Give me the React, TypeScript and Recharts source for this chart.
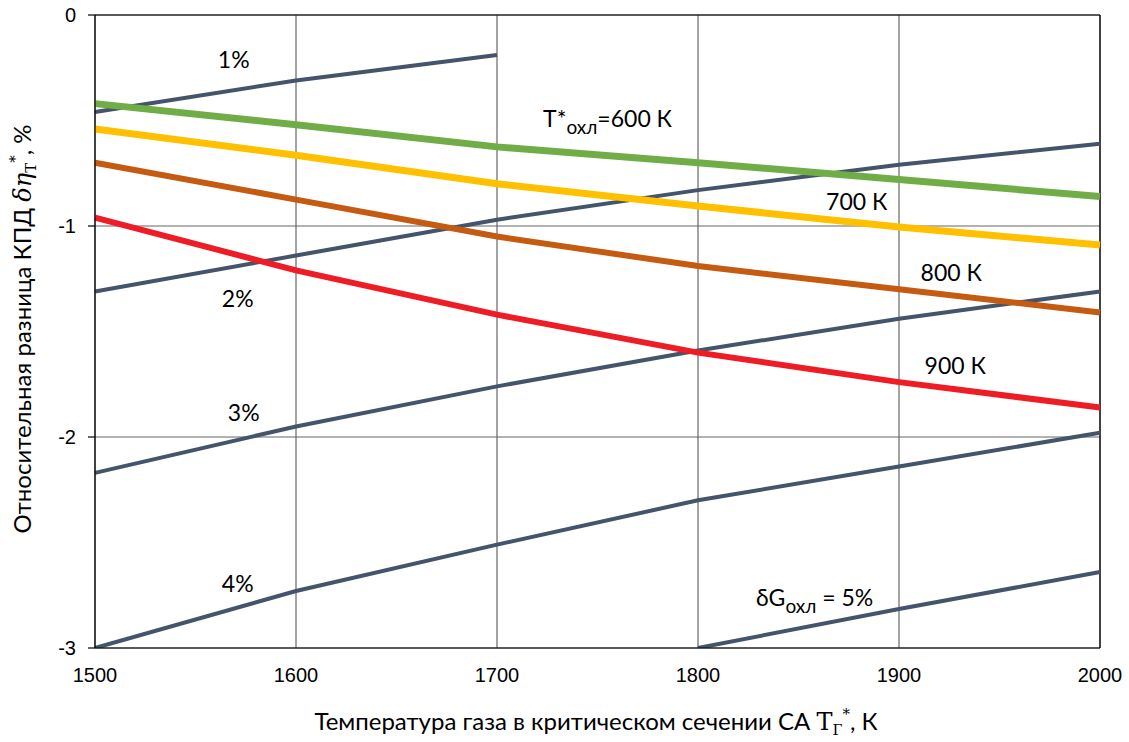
import React from "react";
import {
  LineChart,
  Line,
  XAxis,
  YAxis,
  CartesianGrid,
  ReferenceLine,
  ReferenceDot,
  Label,
} from "recharts";

// Gas temperature in the nozzle throat, K
const temps = [1500, 1600, 1700, 1800, 1900, 2000];

// Relative efficiency difference for cooling air flow δG (dark lines)
const g1 = [-0.46, -0.31, -0.19, null, null, null];
const g2 = [-1.31, -1.14, -0.97, -0.83, -0.71, -0.61];
const g3 = [-2.17, -1.95, -1.76, -1.59, -1.44, -1.31];
const g4 = [-3.0, -2.73, -2.51, -2.3, -2.14, -1.98];
const g5 = [null, null, null, -3.0, -2.815, -2.64];

// ... and for cooling air temperature (coloured lines)
const t600 = [-0.42, -0.52, -0.625, -0.7, -0.78, -0.86];
const t700 = [-0.54, -0.665, -0.8, -0.905, -1.005, -1.09];
const t800 = [-0.7, -0.875, -1.05, -1.19, -1.3, -1.41];
const t900 = [-0.96, -1.21, -1.42, -1.6, -1.74, -1.86];

const xTicks = [1500, 1600, 1700, 1800, 1900, 2000];
const yTicks = [0, -1, -2, -3];

const DARK = "#44546A";

const series = [
  { key: "g1", values: g1, color: DARK, width: 4 },
  { key: "g2", values: g2, color: DARK, width: 4 },
  { key: "g3", values: g3, color: DARK, width: 4 },
  { key: "g4", values: g4, color: DARK, width: 4 },
  { key: "g5", values: g5, color: DARK, width: 4 },
  { key: "t600", values: t600, color: "#70AD47", width: 7 },
  { key: "t700", values: t700, color: "#FFC000", width: 7 },
  { key: "t800", values: t800, color: "#C55A11", width: 6 },
  { key: "t900", values: t900, color: "#EE1C25", width: 6 },
];

// in-plot annotations, anchored in data coordinates
const notes = [
  { x: 1569, y: -0.21, text: "1%", angle: -8 },
  { x: 1571, y: -1.34, text: "2%", angle: -6 },
  { x: 1574, y: -1.88, text: "3%", angle: -8 },
  { x: 1571, y: -2.69, text: "4%", angle: -8 },
  { x: 1755, y: -0.49, text: "T*|охл|=600 К", angle: -2 },
  { x: 1879, y: -0.88, text: "700 К", angle: -5 },
  { x: 1926, y: -1.22, text: "800 К", angle: -5 },
  { x: 1928, y: -1.66, text: "900 К", angle: -5 },
  { x: 1858, y: -2.76, text: "δG|охл| = 5%", angle: -12 },
];

const data = temps.map((t, i) => {
  const row: Record<string, number | null> = { t };
  series.forEach((s) => {
    row[s.key] = s.values[i];
  });
  return row;
});

const LABEL_FONT = "Lato, 'Open Sans', sans-serif";
const TICK_FONT = "'Liberation Sans', Arial, sans-serif";
const MATH_FONT = "'DejaVu Serif', serif";

function NoteText({ viewBox, text, angle }: any) {
  const cx = viewBox.x + viewBox.width / 2;
  const cy = viewBox.y + viewBox.height / 2;
  const parts = String(text).split("|");
  return (
    <text
      x={cx}
      y={cy}
      textAnchor="middle"
      dominantBaseline="central"
      fontFamily={LABEL_FONT}
      fontSize={23}
      fill="#000"
      transform={`rotate(${angle} ${cx} ${cy})`}
    >
      {parts.length === 1 ? (
        text
      ) : (
        <>
          <tspan>{parts[0]}</tspan>
          <tspan fontSize={19} dy={8}>
            {parts[1]}
          </tspan>
          <tspan dy={-8}>{parts[2]}</tspan>
        </>
      )}
    </text>
  );
}

function XTitle() {
  return (
    <text x={596} y={730} textAnchor="middle" fontFamily={LABEL_FONT} fontSize={24} fill="#000">
      <tspan>Температура газа в критическом сечении СА </tspan>
      <tspan fontFamily={MATH_FONT}>Т</tspan>
      <tspan fontFamily={MATH_FONT} fontSize={15} dy={5}>
        Г
      </tspan>
      <tspan fontFamily={MATH_FONT} fontSize={15} dy={-16}>
        *
      </tspan>
      <tspan dy={11}>, К</tspan>
    </text>
  );
}

function YTitle() {
  return (
    <text
      x={0}
      y={0}
      textAnchor="middle"
      fontFamily={LABEL_FONT}
      fontSize={24}
      fill="#000"
      transform="translate(31 329) rotate(-90)"
    >
      <tspan>Относительная разница КПД </tspan>
      <tspan fontFamily={MATH_FONT} fontStyle="italic">
        δη
      </tspan>
      <tspan fontFamily={MATH_FONT} fontSize={15} dy={5}>
        Т
      </tspan>
      <tspan fontFamily={MATH_FONT} fontSize={15} dy={-16}>
        *
      </tspan>
      <tspan dy={11}>, %</tspan>
    </text>
  );
}

export default function App() {
  return (
    <div style={{ position: "absolute", left: 0, top: 0, background: "#fff" }}>
      <LineChart
        width={1129}
        height={742}
        data={data}
        margin={{ top: 15, right: 29, bottom: 54, left: 35 }}
      >
        <CartesianGrid stroke="#666" strokeWidth={1.2} />
        <XAxis
          dataKey="t"
          type="number"
          domain={[1500, 2000]}
          ticks={xTicks}
          height={40}
          axisLine={{ stroke: "#000", strokeWidth: 1.2 }}
          tickLine={false}
          tickSize={0}
          tickMargin={20}
          tick={{ fill: "#000", fontSize: 20, fontFamily: TICK_FONT }}
        >
          <Label content={<XTitle />} />
        </XAxis>
        <YAxis
          type="number"
          domain={[-3, 0]}
          ticks={yTicks}
          width={60}
          allowDataOverflow
          axisLine={{ stroke: "#000", strokeWidth: 1.2 }}
          tickLine={{ stroke: "#000", strokeWidth: 1.2 }}
          tickSize={7}
          tickMargin={12}
          tick={{ fill: "#000", fontSize: 20, fontFamily: TICK_FONT }}
        >
          <Label content={<YTitle />} />
        </YAxis>
        <ReferenceLine y={0} stroke="#000" strokeWidth={1.2} />
        <ReferenceLine x={2000} stroke="#000" strokeWidth={1.2} />
        {series.map((s) => (
          <Line
            key={s.key}
            dataKey={s.key}
            type="linear"
            stroke={s.color}
            strokeWidth={s.width}
            dot={false}
            activeDot={false}
            connectNulls={false}
            isAnimationActive={false}
          />
        ))}
        {notes.map((n) => (
          <ReferenceDot
            key={n.text}
            x={n.x}
            y={n.y}
            r={0}
            fill="none"
            stroke="none"
            label={<NoteText text={n.text} angle={n.angle} />}
          />
        ))}
      </LineChart>
    </div>
  );
}
